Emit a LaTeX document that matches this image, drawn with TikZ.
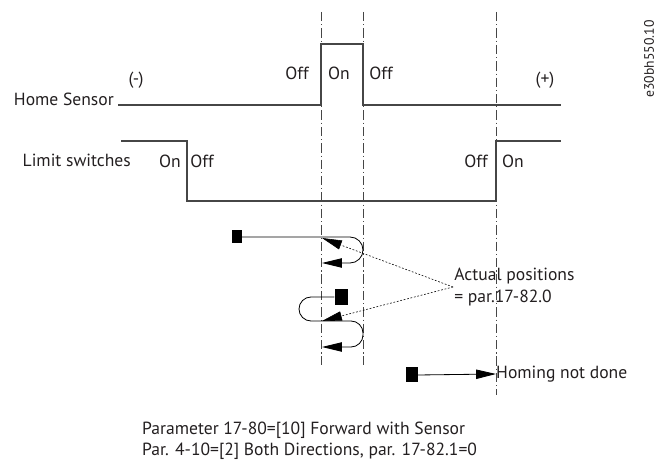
\documentclass[tikz,border=0pt]{standalone}
\usepackage{fontspec}
\setmainfont{PT Sans}
\definecolor{wavegray}{RGB}{70,70,70}
\definecolor{txtblack}{RGB}{35,31,32}
\usetikzlibrary{arrows.meta,positioning}

\begin{document}
\begin{tikzpicture}[x=0.03cm, y=-0.03cm,
  wave/.style={draw=wavegray, line width=0.9pt},
  guide/.style={draw=wavegray, line width=0.6pt,
                dash pattern=on 8pt off 2.5pt on 1pt off 2.5pt},
  lbl/.style={font=\fontsize{15}{18}\selectfont, text=txtblack,
              inner sep=0pt, align=left},
  blk/.style={rectangle, fill=black, inner sep=0pt,
              minimum width=0.35cm, minimum height=0.45cm},
  arr/.style={-{Triangle[length=17pt, width=8pt]}, line width=0.7pt},
  ptr/.style={-{Triangle[length=17pt, width=8pt]}, line width=0.5pt,
              dash pattern=on 1.5pt off 1.5pt}
]
\useasboundingbox (0,0) rectangle (659,461);

% Guide lines
\draw[guide] (321,12) -- (321,365);
\draw[guide] (363,12) -- (363,365);
\draw[guide] (496,12) -- (496,395);

% Home sensor signal
\node[lbl, anchor=base east] (hs) at (114,106) {Home Sensor};
\draw[wave] (118,105) -- (321,105) -- (321,44) -- (363,44) -- (363,105) -- (561,105);
\node[lbl, anchor=base] (neg) at (136,85) {(-)};
\node[lbl, anchor=base] (pos) at (545,85) {(+)};
\node[lbl, anchor=base] (hoff1) at (297,80) {Off};
\node[lbl, anchor=base] (hon) at (339,80) {On};
\node[lbl, anchor=base] (hoff2) at (381,80) {Off};

% Limit switches signal
\node[lbl, anchor=base east] (ls) at (131,167) {Limit switches};
\draw[wave] (121,141) -- (187,141) -- (187,201) -- (496,201) -- (496,141) -- (561,141);
\node[lbl, anchor=base] (lon1) at (170,168) {On};
\node[lbl, anchor=base] (loff1) at (202,168) {Off};
\node[lbl, anchor=base] (loff2) at (476,168) {Off};
\node[lbl, anchor=base] (lon2) at (513,168) {On};

% Drawing number
\node[lbl, font=\fontsize{11.7}{14}\selectfont, rotate=90] (dwg) at (649,59) {e30bh550.10};

% Homing runs
\node[blk, minimum width=0.3cm, minimum height=0.39cm] (start1) at (237,237) {};
\coordinate (end1) at (322,263);
\draw[arr, rounded corners=0.39cm] (start1.east) -- (363,237) -- (363,263) -- (end1);

\node[blk, minimum width=0.39cm, minimum height=0.5cm] (start2) at (341,297) {};
\coordinate (end2) at (322,347);
\draw[arr, rounded corners=0.36cm] (start2.west) -- (299,297) -- (299,321) -- (363,321) -- (363,347) -- (end2);

% Actual positions
\node[lbl, anchor=west, inner sep=1pt] (actual) at (453,287) {Actual positions\\= par.17-82.0};
\coordinate (pos1) at (322,238);
\coordinate (pos2) at (322,321);
\draw[ptr] (actual.west) -- (pos1);
\draw[ptr] (actual.west) -- (pos2);

% Homing not done
\node[blk] (start3) at (412,375) {};
\node[lbl, anchor=west] (notdone) at (496,374) {Homing not done};
\draw[arr] (start3.east) -- (notdone.west);

% Parameter settings
\node[lbl, anchor=west] (params) at (142,441) {Parameter 17-80=[10] Forward with Sensor\\Par. 4-10=[2] Both Directions, par. 17-82.1=0};
\end{tikzpicture}
\end{document}
